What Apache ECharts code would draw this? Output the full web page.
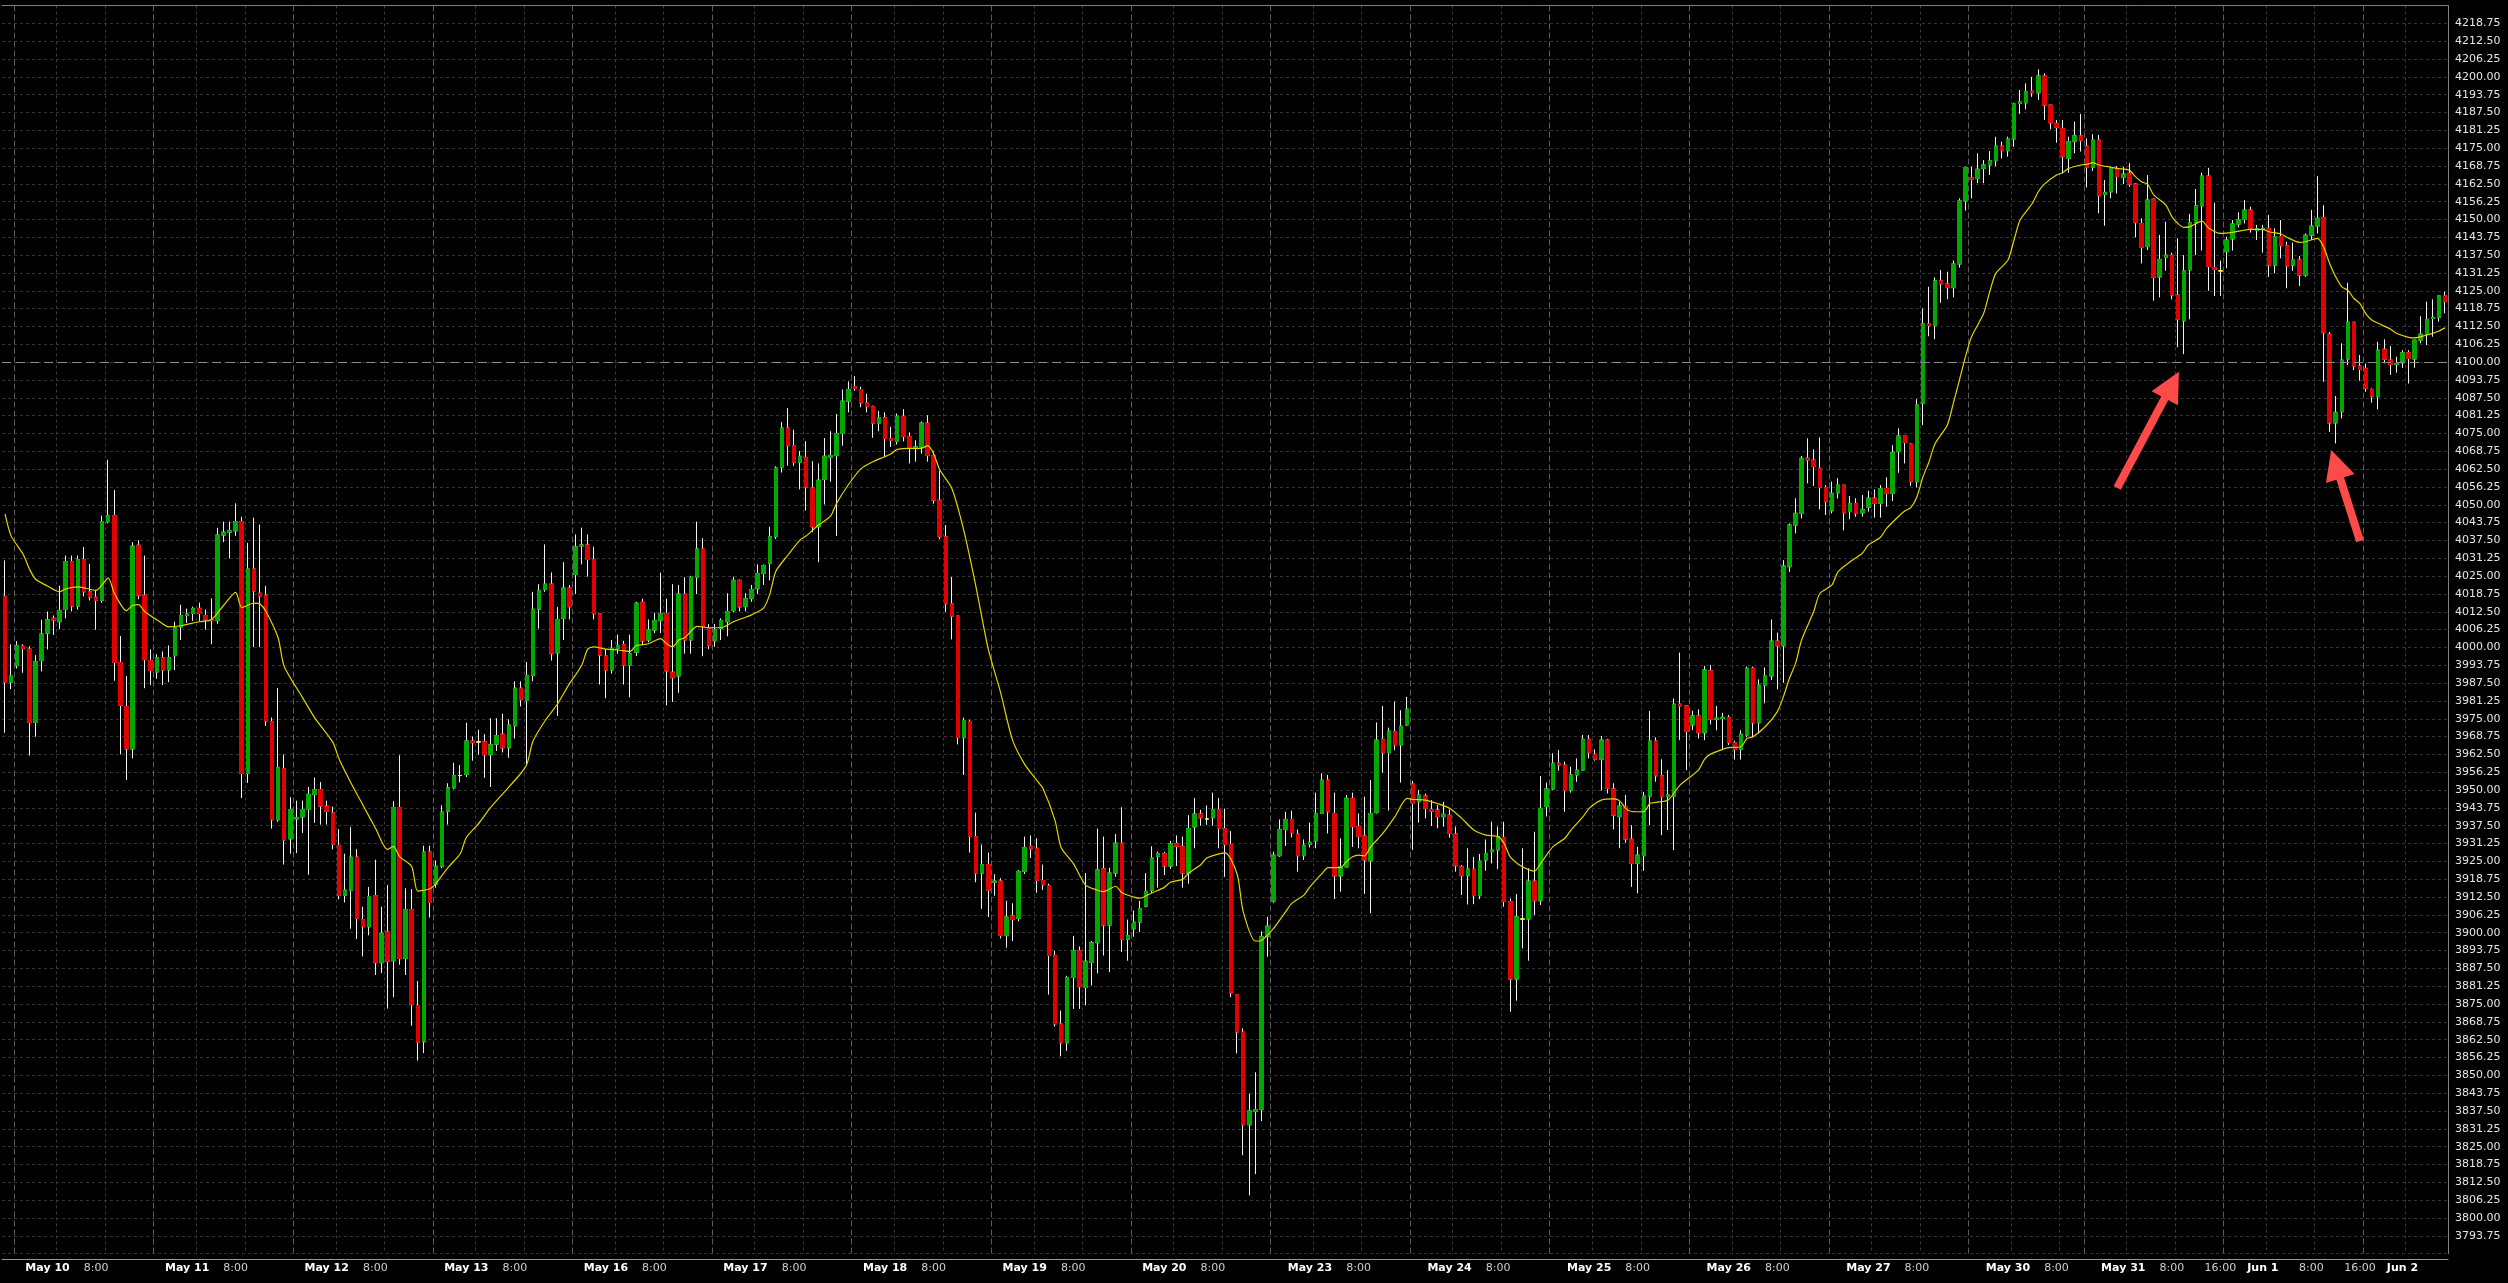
<!DOCTYPE html>
<html>
<head>
<meta charset="utf-8">
<script src="https://cdn.jsdelivr.net/npm/echarts@6/dist/echarts.min.js"></script>
<style>
html,body{margin:0;padding:0;background:#000;}
#chart{width:2508px;height:1283px;}
</style>
</head>
<body>
<div id="chart"></div>
<script>
// ---- time axis: trading days and their hourly bars ----
const DAYS = ['May 9','May 10','May 11','May 12','May 13','May 16','May 17','May 18','May 19','May 20',
  'May 23','May 24','May 25','May 26','May 27','May 30','May 31','Jun 1','Jun 2'];
const FULL_SESSION_HOURS = [0,1,2,3,4,5,6,7,8,9,10,11,12,13,14,15,17,18,19,20,21,22,23];
const SPECIAL_DAY_HOURS = {
  'May 9': [14,15,17,18,19,20,21,22,23],
  'May 30': [0,1,2,3,4,5,6,7,8,9,10,11,17,18,19,20,21,22,23],
  'Jun 2': [0,1,2,3,4,5,6]
};

// ---- bottom tick labels: [bar index, text] ----
const X_TICK_LABELS = [[7,'May 10'],[15,'8:00'],[30,'May 11'],[38,'8:00'],[53,'May 12'],[61,'8:00'],
  [76,'May 13'],[84,'8:00'],[99,'May 16'],[107,'8:00'],[122,'May 17'],[130,'8:00'],[145,'May 18'],[153,'8:00'],
  [168,'May 19'],[176,'8:00'],[191,'May 20'],[199,'8:00'],[215,'May 23'],[223,'8:00'],[238,'May 24'],[246,'8:00'],
  [261,'May 25'],[269,'8:00'],[284,'May 26'],[292,'8:00'],[307,'May 27'],[315,'8:00'],[330,'May 30'],[338,'8:00'],
  [349,'May 31'],[357,'8:00'],[365,'16:00'],[372,'Jun 1'],[380,'8:00'],[388,'16:00'],[395,'Jun 2']];

// ---- price axis ----
const Y_MIN = 3787.5, Y_MAX = 4225, Y_STEP = 6.25;
const H_LINE_PRICE = 4100;

// ---- OHLC values, one per hourly bar ----
const OPEN = [
4017.9,3987.8,3993.6,4000.4,3999.4,3973.7,3995.4,4005.0,4010.2,4009.0,
4013.3,4030.1,4014.5,4030.8,4019.5,4017.6,4016.5,4044.1,4046.2,3994.7,
3979.3,3964.4,4035.8,4018.3,3995.4,3991.4,3996.4,3992.1,3997.1,4007.2,
4011.2,4011.9,4013.7,4011.2,4009.7,4009.4,4039.4,4040.4,4040.9,4044.1,
3955.8,4027.5,4019.0,4018.3,3974.0,3939.6,3957.5,3932.9,3939.9,3940.6,
3943.2,3948.5,3950.2,3944.4,3942.0,3930.6,3913.1,3914.9,3926.5,3904.6,
3902.1,3913.0,3889.5,3900.3,3890.2,3943.9,3891.0,3908.1,3874.5,
3861.8,3928.3,3917.0,3923.3,3942.6,3950.8,3955.1,3955.5,3967.2,3966.9,
3966.9,3962.4,3966.1,3969.6,3964.8,3972.5,3985.7,3981.4,3990.2,4013.4,
4020.3,4022.2,3998.1,4010.2,4020.8,4025.6,4035.6,4035.9,4030.8,4011.8,
3997.0,3992.1,3999.7,4001.0,3993.8,3998.3,4015.8,4002.6,4006.1,4009.4,
4011.9,3991.3,3990.0,4018.7,4002.6,4024.6,4034.5,4006.6,4002.3,4006.6,
4009.0,4012.9,4023.5,4014.3,4017.1,4020.6,4025.9,4029.5,4038.8,4063.2,
4076.9,4070.7,4064.9,4066.6,4055.9,4042.3,4058.9,4066.6,4067.3,
4075.0,4086.3,4091.4,4090.4,4085.7,4084.4,4078.6,4080.5,4073.2,4072.2,
4081.0,4073.9,4069.8,4070.3,4078.6,4067.3,4051.6,4038.8,4015.3,4011.0,
3968.4,3974.1,3933.7,3920.9,3923.9,3917.7,3918.1,3899.0,3905.9,3905.0,
3921.5,3930.3,3929.6,3918.3,3916.4,3892.0,3868.0,3861.4,3884.3,3893.7,
3880.8,3889.6,3896.5,3922.4,3902.7,3920.9,3931.4,3897.7,3901.4,3903.7,
3909.3,3914.9,3926.8,3927.7,3923.4,3931.2,3930.3,3920.9,3937.1,3941.6,
3939.9,3940.3,3943.1,3936.5,3930.9,3878.3,3865.2,3832.7,3837.4,
3838.0,3898.8,3911.1,3927.0,3936.2,3939.7,3934.6,3927.0,3931.0,3932.2,
3941.8,3953.5,3941.8,3919.9,3923.1,3947.1,3937.2,3933.9,3925.2,3942.1,
3967.8,3963.1,3970.5,3965.8,3972.8,3952.1,3945.9,3947.9,3943.2,3943.0,
3940.7,3941.2,3934.6,3923.1,3920.0,3922.3,3913.0,3925.5,3928.4,3929.0,
3933.4,3910.9,3883.8,3904.8,3904.8,3918.1,3911.2,3944.2,3950.4,3959.4,
3958.8,3949.8,3955.3,3957.0,3967.8,3962.6,3960.8,3967.5,3950.4,3940.7,
3944.2,3932.8,3924.3,3927.0,3947.9,3967.2,3955.0,3947.7,3947.9,
3980.1,3979.5,3972.8,3976.0,3970.1,3991.8,3974.8,3975.1,3975.5,3966.6,
3964.3,3969.3,3992.7,3973.6,3986.8,3990.0,4002.2,4000.6,4028.3,4042.9,
4047.0,4066.3,4065.7,4062.8,4056.1,4047.9,4054.2,4056.9,4047.6,4050.5,
4047.2,4049.1,4052.3,4050.5,4055.7,
4054.0,4068.6,4074.3,4071.3,4058.1,4085.6,4113.4,4112.8,4128.5,4127.4,
4126.1,4134.4,4156.5,4164.6,4164.4,4167.9,4169.1,4170.6,4175.7,4174.1,
4178.2,4190.7,4190.9,4195.0,4194.4,4200.3,4190.1,4183.7,4181.9,4171.4,
4177.3,4179.3,4175.7,4168.3,4177.8,
4158.8,4159.7,4167.7,4164.8,4166.2,4162.4,4148.6,4140.5,4157.1,4129.9,
4136.7,4137.5,4123.5,4114.5,4132.3,4148.9,4154.8,4165.2,4133.2,4132.0,
4138.7,4143.2,4148.4,4150.0,4153.3,4146.1,4146.7,4146.9,4134.0,4144.0,
4140.8,4134.0,4135.8,
4130.5,4144.5,4147.7,4150.7,4109.8,4078.7,4082.6,4101.1,4114.0,4098.6,
4097.8,4090.4,4087.9,4104.5,4100.7,4099.2,4099.8,4103.3,4101.1,4107.7,
4109.8,4115.3,4115.7,4123.2
];
const HIGH = [
4030.5,4001.1,4002.2,4001.1,4000.4,3997.3,4009.7,4012.6,4011.2,4021.6,
4032.2,4032.2,4032.2,4035.2,4029.3,4020.2,4046.2,4065.8,4055.2,4004.0,
3990.0,4036.9,4037.6,4032.2,3999.3,3997.6,3998.6,4000.7,4009.0,4015.0,
4013.6,4014.3,4015.7,4013.3,4017.2,4041.9,4044.1,4044.1,4050.5,4045.8,
4036.6,4045.5,4043.1,4021.6,3975.4,3985.8,3962.5,3947.5,3946.3,3946.3,
3951.1,3954.4,3952.8,3946.3,3944.2,3936.3,3927.7,3937.0,3929.3,3909.1,
3916.0,3925.6,3909.1,3916.7,3946.1,3962.2,3915.6,3915.3,3883.1,
3930.5,3930.5,3925.4,3944.7,3952.4,3959.6,3958.8,3973.6,3968.8,3971.2,
3969.6,3975.2,3975.2,3976.8,3974.8,3988.1,3988.1,3994.9,4019.5,4022.2,
4036.1,4026.3,4014.2,4029.9,4021.9,4039.6,4042.0,4039.6,4035.3,4011.8,
3999.4,4002.6,4004.5,4002.3,4004.5,4016.0,4017.1,4009.8,4012.2,4026.2,
4017.1,4022.2,4021.9,4024.6,4025.1,4044.1,4038.3,4008.2,4008.2,4010.2,
4019.0,4024.8,4023.8,4019.0,4021.9,4029.1,4029.1,4042.3,4063.5,4079.0,
4083.9,4076.3,4068.9,4072.3,4065.3,4064.5,4073.4,4075.8,4081.8,
4090.4,4093.2,4095.1,4091.4,4088.9,4084.8,4082.9,4082.4,4077.3,4082.0,
4083.5,4075.4,4072.6,4079.2,4081.4,4068.8,4061.9,4042.9,4024.7,4011.0,
3975.4,3974.6,3942.1,3930.9,3928.1,3920.5,3919.1,3911.2,3910.3,3922.0,
3933.7,3934.1,3933.1,3923.9,3917.2,3893.7,3872.7,3884.9,3898.9,3895.2,
3920.9,3897.1,3936.5,3933.7,3922.8,3934.6,3944.0,3904.6,3907.8,3911.2,
3920.9,3930.3,3928.4,3928.4,3932.2,3934.1,3933.7,3941.2,3947.2,3943.1,
3944.6,3949.1,3947.2,3943.5,3935.6,3878.3,3866.5,3843.6,3851.1,
3900.5,3905.6,3928.4,3939.7,3942.4,3942.8,3936.2,3932.7,3938.6,3949.1,
3955.9,3955.3,3949.1,3933.1,3948.3,3949.1,3941.8,3947.7,3953.5,3973.7,
3979.5,3971.9,3981.0,3978.0,3982.7,3953.2,3950.0,3948.8,3946.5,3944.8,
3945.9,3943.2,3937.2,3923.7,3929.6,3926.6,3927.6,3932.7,3938.9,3937.2,
3938.9,3912.0,3913.6,3929.6,3922.6,3935.4,3954.9,3952.6,3962.9,3964.0,
3960.0,3958.2,3961.1,3969.3,3969.3,3964.3,3969.0,3967.8,3952.4,3945.9,
3948.3,3937.7,3930.1,3949.4,3977.7,3968.5,3960.8,3957.0,3982.1,
3998.2,3979.8,3977.8,3978.3,3993.5,3993.8,3979.5,3977.1,3976.3,3967.3,
3971.0,3993.3,3993.3,3988.8,3993.0,4009.8,4005.2,4030.6,4043.5,4052.3,
4067.1,4073.3,4069.4,4073.6,4056.9,4058.1,4059.3,4056.9,4053.1,4052.3,
4053.4,4054.9,4055.4,4056.9,4059.6,
4070.9,4076.8,4074.3,4071.5,4087.0,4118.8,4126.4,4129.7,4132.3,4131.7,
4135.6,4157.4,4168.5,4168.5,4173.2,4170.8,4174.0,4179.0,4177.3,4179.0,
4190.9,4195.4,4197.7,4200.0,4202.6,4201.2,4190.1,4184.9,4184.9,4179.0,
4184.3,4187.0,4178.4,4179.9,4179.6,
4163.8,4168.5,4168.7,4168.5,4169.7,4162.7,4150.4,4165.6,4157.4,4144.6,
4149.2,4138.4,4143.4,4137.5,4151.9,4160.7,4166.4,4168.1,4155.9,4135.6,
4144.0,4149.8,4152.5,4156.8,4154.5,4148.1,4148.1,4151.6,4146.9,4149.8,
4142.2,4141.9,4137.2,
4145.1,4153.3,4165.2,4155.0,4110.6,4088.1,4106.6,4127.8,4114.0,4102.5,
4099.5,4090.8,4107.1,4108.0,4105.6,4101.9,4104.2,4104.2,4107.7,4116.1,
4121.2,4122.0,4123.5,4124.7
];
const LOW = [
3970.1,3985.4,3992.6,3991.1,3962.1,3968.7,3991.6,3999.3,4004.4,4006.4,
4010.2,4012.6,4013.3,4017.9,4016.5,4006.2,4015.7,4043.5,3988.3,3962.5,
3953.5,3961.1,4016.9,3985.7,3986.8,3989.0,3986.8,3987.8,3992.1,4002.6,
4008.6,4009.3,4009.3,4006.2,4001.1,4008.3,4036.9,4031.2,4039.1,3947.2,
3952.5,4000.1,4000.1,3972.5,3936.5,3938.9,3923.9,3927.7,3927.9,3935.0,
3920.3,3938.5,3937.9,3937.9,3929.2,3911.7,3910.6,3901.4,3897.8,3891.7,
3899.1,3885.2,3885.9,3873.4,3877.4,3888.8,3885.2,3867.4,3855.2,
3857.8,3905.3,3915.8,3922.6,3937.9,3950.3,3952.7,3954.6,3960.3,3962.4,
3954.3,3951.1,3963.7,3963.2,3961.3,3968.0,3979.3,3959.2,3988.1,4006.6,
4019.5,3995.4,3976.0,4002.6,4009.8,4018.7,4029.1,4024.8,4009.8,3987.0,
3982.2,3990.8,3997.8,3987.0,3982.5,3997.0,4001.0,4001.8,4005.0,4005.0,
3979.7,3980.9,3984.1,3997.8,3997.8,4018.7,3996.9,3999.4,4000.2,4002.6,
4003.9,4012.3,4012.6,4012.6,4016.0,4018.7,4021.9,4023.5,4038.0,4061.3,
4063.7,4063.7,4055.4,4048.0,4040.4,4029.9,4050.1,4058.1,4039.1,
4070.7,4082.4,4089.9,4084.2,4082.4,4073.5,4075.8,4066.6,4070.3,4071.1,
4072.2,4064.5,4065.1,4067.9,4065.1,4050.4,4037.9,4012.5,4002.8,3966.0,
3955.3,3928.1,3917.7,3908.4,3905.5,3913.0,3898.0,3894.8,3897.1,3904.0,
3920.6,3926.2,3914.0,3915.0,3878.3,3867.1,3856.7,3858.6,3873.3,3873.3,
3874.6,3881.5,3885.8,3892.0,3886.2,3919.6,3893.3,3890.2,3898.6,3900.3,
3908.9,3914.0,3915.8,3920.2,3922.4,3923.4,3915.8,3917.2,3929.6,3937.5,
3937.8,3937.5,3929.6,3919.6,3877.4,3857.7,3822.0,3807.9,3815.4,
3834.0,3891.6,3910.5,3926.6,3930.4,3933.4,3921.4,3925.5,3929.9,3929.6,
3941.8,3934.8,3911.8,3914.4,3922.9,3930.1,3929.6,3913.6,3906.8,3941.8,
3956.1,3942.8,3964.0,3952.6,3972.4,3929.0,3938.6,3940.1,3937.4,3936.6,
3937.2,3933.3,3921.4,3913.2,3909.9,3910.0,3911.8,3921.7,3924.3,3922.3,
3909.1,3872.3,3876.2,3894.5,3890.2,3906.2,3909.7,3940.7,3950.0,3956.8,
3942.4,3949.1,3952.9,3956.8,3961.1,3960.3,3949.8,3948.8,3936.2,3929.6,
3931.5,3916.1,3913.8,3921.7,3937.7,3952.9,3934.2,3936.0,3929.0,
3967.5,3957.0,3971.0,3968.1,3967.5,3973.0,3971.0,3964.0,3965.8,3960.7,
3960.7,3968.5,3968.5,3969.9,3980.4,3988.6,3985.3,3987.6,4026.5,4040.0,
4045.2,4057.5,4056.6,4048.4,4046.4,4047.0,4052.2,4041.1,4044.9,4045.8,
4045.8,4047.6,4045.5,4045.5,4049.3,
4051.3,4061.2,4064.5,4056.6,4056.1,4077.9,4109.1,4108.0,4120.8,4122.0,
4122.7,4133.1,4153.1,4157.4,4162.7,4162.7,4165.6,4168.7,4171.4,4172.0,
4175.5,4187.0,4188.6,4193.0,4191.9,4184.9,4181.6,4176.9,4166.2,4166.4,
4173.2,4173.8,4161.2,4167.0,4152.2,
4147.8,4157.4,4159.1,4162.4,4161.5,4143.7,4134.6,4139.3,4121.5,4122.7,
4132.0,4122.0,4105.2,4102.8,4115.0,4137.5,4139.1,4125.0,4123.2,4123.2,
4132.9,4139.1,4147.2,4148.6,4145.4,4142.8,4138.4,4129.9,4131.1,4136.4,
4125.9,4132.0,4126.7,
4129.9,4142.8,4145.1,4093.1,4075.6,4071.5,4080.3,4099.0,4097.2,4093.5,
4089.6,4085.8,4083.4,4099.6,4095.5,4096.3,4098.0,4092.5,4098.0,4106.6,
4106.0,4108.9,4114.2,4117.1
];
const CLOSE = [
3987.8,3990.0,4000.7,3999.6,3973.7,3995.0,4004.7,4009.7,4009.6,4012.9,
4030.1,4014.5,4030.8,4019.5,4017.6,4016.5,4044.1,4046.2,3994.7,3979.7,
3964.4,4035.5,4018.3,3995.7,3991.9,3996.4,3992.1,3996.4,4006.9,4011.2,
4011.7,4013.7,4011.9,4009.7,4009.4,4039.4,4040.4,4040.9,4044.1,3955.8,
4027.5,4019.8,4018.0,3974.2,3939.6,3957.8,3932.5,3943.2,3940.3,3943.2,
3948.5,3950.2,3944.4,3942.5,3931.0,3913.1,3914.9,3926.5,3905.0,3902.1,
3912.7,3889.5,3899.8,3890.0,3943.9,3891.0,3908.1,3874.8,3861.6,
3928.3,3910.6,3923.3,3942.3,3950.8,3955.1,3955.1,3967.2,3966.6,3966.9,
3962.4,3965.9,3969.1,3964.8,3972.8,3985.7,3981.7,3990.2,4013.4,4020.0,
4022.2,3997.8,4009.8,4020.8,4014.3,4035.3,4035.9,4030.8,4011.8,3997.3,
3992.1,3999.7,4000.7,3993.8,3997.8,4015.5,4002.3,4006.1,4009.4,4011.9,
3991.8,3989.4,4018.7,4002.6,4024.6,4034.5,4007.4,4000.7,4006.1,4009.4,
4012.6,4023.5,4014.2,4017.1,4020.3,4025.9,4028.7,4038.8,4062.9,4076.9,
4070.7,4064.9,4067.0,4056.2,4042.3,4058.6,4067.0,4067.3,4075.0,
4086.3,4090.4,4090.8,4085.7,4084.4,4078.6,4080.5,4073.2,4072.6,4081.0,
4073.9,4069.8,4070.3,4078.6,4067.3,4051.6,4038.8,4015.3,4011.0,3968.4,
3974.4,3933.7,3920.9,3923.9,3914.9,3918.1,3899.0,3905.5,3904.6,3921.5,
3929.9,3929.4,3918.3,3916.8,3892.0,3868.0,3861.4,3884.3,3893.7,3881.1,
3890.0,3896.5,3922.0,3902.7,3920.9,3931.4,3897.7,3899.0,3903.7,3908.4,
3914.5,3926.2,3927.7,3923.4,3931.2,3930.3,3920.9,3936.5,3941.6,3940.3,
3939.9,3943.1,3936.5,3930.9,3878.9,3865.2,3832.7,3837.6,3838.0,
3898.6,3902.3,3927.2,3936.2,3939.7,3935.0,3927.0,3930.7,3931.7,3941.8,
3953.5,3942.4,3919.9,3923.1,3947.1,3937.2,3933.7,3925.5,3941.8,3967.5,
3963.1,3970.7,3965.8,3972.4,3978.4,3945.3,3948.3,3943.6,3942.6,3940.7,
3941.5,3934.8,3923.5,3920.0,3922.3,3913.0,3925.1,3927.8,3929.0,3933.7,
3910.9,3883.8,3905.6,3904.8,3918.1,3911.2,3943.6,3950.4,3959.4,3958.8,
3949.8,3955.3,3957.0,3967.8,3963.1,3960.8,3967.5,3950.6,3941.2,3944.4,
3932.8,3924.3,3927.2,3947.9,3967.2,3955.0,3947.7,3948.3,3980.1,
3979.5,3970.5,3976.0,3970.1,3992.1,3974.8,3975.2,3975.5,3966.6,3964.3,
3969.6,3992.7,3973.6,3986.8,3990.0,4002.2,4000.6,4028.5,4042.9,4047.0,
4066.3,4065.7,4063.4,4056.1,4051.1,4054.0,4056.9,4047.2,4050.5,4047.0,
4048.4,4052.3,4050.5,4055.7,4054.0,
4068.4,4074.1,4071.8,4058.1,4085.0,4113.4,4112.8,4128.5,4127.4,4126.1,
4134.4,4156.5,4168.2,4164.1,4167.6,4169.1,4170.6,4175.7,4174.1,4178.2,
4190.5,4191.3,4194.8,4194.4,4200.3,4190.1,4183.9,4182.2,4172.0,4177.3,
4179.3,4177.6,4168.3,4177.8,4158.3,
4159.5,4167.9,4165.0,4165.9,4162.4,4148.9,4140.2,4156.8,4129.7,4136.0,
4137.5,4123.5,4115.0,4132.0,4148.9,4154.8,4165.2,4133.5,4132.5,4132.0,
4142.8,4148.4,4149.8,4153.3,4146.7,4146.7,4146.9,4134.0,4144.0,4140.8,
4133.7,4135.8,4130.5,
4144.5,4147.7,4150.4,4110.3,4078.7,4082.4,4100.7,4114.0,4098.7,4097.4,
4090.8,4088.1,4104.2,4101.0,4099.2,4099.5,4103.3,4101.3,4107.7,4109.8,
4115.0,4115.7,4123.2,4121.2
];

// ---- yellow moving-average line: [bar index, price] ----
const MA_POINTS = [
[0,4046.8],[1,4039.1],[3,4032.6],[4,4027.6],[5,4024.0],[7,4021.5],[9,4019.5],[10,4020.5],[12,4021.2],[15,4020.0],
[17,4024.3],[18,4019.0],[20,4012.9],[21,4014.7],[22,4015.0],[23,4012.6],[25,4009.7],[27,4007.2],[29,4007.6],[32,4009.0],
[34,4009.7],[36,4014.7],[38,4019.3],[39,4014.0],[41,4015.5],[42,4015.2],[43,4012.6],[45,4003.3],[46,3993.3],[49,3982.5],
[51,3975.4],[54,3966.8],[55,3961.1],[57,3952.5],[59,3944.6],[61,3936.8],[63,3929.2],[64,3930.3],[65,3926.7],[67,3923.2],
[68,3914.6],[70,3915.4],[71,3917.3],[73,3922.9],[75,3927.7],[76,3933.4],[78,3938.2],[80,3943.9],[82,3948.7],[85,3955.9],
[86,3959.2],[87,3967.2],[89,3974.4],[91,3980.1],[93,3987.3],[95,3993.7],[96,3999.4],[97,4000.2],[99,3999.4],[101,3999.1],
[103,3998.6],[104,4000.6],[106,4001.3],[108,4003.1],[109,4001.3],[110,4000.2],[111,4002.6],[112,4003.4],[114,4007.4],[116,4006.9],
[118,4006.9],[120,4009.0],[122,4010.6],[123,4011.4],[125,4013.9],[126,4018.7],[127,4026.7],[129,4032.4],[131,4037.7],[132,4039.1],
[134,4042.8],[136,4046.0],[137,4050.5],[139,4057.2],[141,4062.6],[143,4065.1],[145,4066.9],[146,4067.9],[147,4069.4],[149,4069.8],
[151,4069.8],[152,4070.7],[153,4067.9],[154,4062.3],[156,4055.7],[158,4040.7],[160,4021.0],[162,3999.4],[164,3984.4],[166,3967.5],
[168,3959.0],[170,3953.4],[171,3950.6],[173,3939.3],[174,3929.9],[176,3924.3],[178,3916.8],[180,3914.9],[181,3914.4],[183,3916.3],
[184,3914.0],[186,3912.5],[187,3912.1],[189,3914.0],[191,3915.9],[192,3917.7],[194,3918.7],[195,3920.9],[197,3923.8],[198,3926.2],
[201,3928.0],[203,3920.5],[204,3907.4],[206,3897.1],[207,3897.3],[209,3901.5],[211,3907.4],[212,3910.3],[214,3913.2],[215,3916.1],
[217,3920.8],[218,3922.8],[220,3922.8],[221,3924.9],[222,3926.6],[223,3927.2],[224,3926.9],[225,3930.1],[227,3934.8],[229,3940.7],
[231,3947.1],[232,3946.7],[234,3946.5],[236,3945.3],[238,3943.6],[240,3940.1],[242,3936.0],[244,3934.2],[246,3933.7],[247,3931.3],
[248,3926.6],[250,3923.1],[252,3921.6],[253,3924.3],[255,3930.1],[257,3933.1],[258,3936.0],[260,3940.7],[261,3943.6],[263,3946.5],
[265,3946.9],[266,3946.3],[267,3943.6],[268,3942.5],[270,3942.4],[271,3945.3],[272,3945.7],[274,3946.5],[276,3951.8],[279,3957.0],
[280,3960.8],[281,3962.6],[283,3964.3],[284,3964.9],[286,3965.2],[287,3968.1],[288,3968.7],[290,3972.2],[292,3977.5],[293,3982.7],
[294,3989.2],[295,3994.4],[296,4002.6],[298,4012.6],[299,4018.9],[301,4021.9],[302,4026.5],[304,4030.0],[306,4033.0],[307,4035.9],
[309,4038.6],[310,4041.7],[312,4046.0],[313,4047.8],[314,4049.0],[315,4052.8],[316,4059.8],[317,4065.1],[318,4071.5],[320,4077.9],
[321,4085.6],[322,4093.7],[323,4101.9],[324,4108.9],[326,4117.1],[327,4124.7],[328,4131.1],[330,4135.8],[331,4142.8],[332,4149.8],
[334,4155.6],[335,4159.7],[336,4162.4],[338,4165.6],[339,4166.4],[340,4167.9],[342,4169.1],[343,4169.3],[344,4169.9],[345,4169.1],
[347,4168.3],[348,4167.9],[350,4167.3],[351,4165.0],[352,4163.2],[353,4162.4],[354,4158.6],[356,4155.1],[357,4151.0],[358,4148.6],
[359,4147.2],[360,4147.5],[362,4149.4],[363,4147.1],[365,4145.1],[367,4145.5],[369,4146.3],[370,4146.5],[372,4146.5],[373,4145.7],
[375,4144.9],[376,4143.7],[378,4142.0],[379,4142.2],[381,4143.4],[382,4140.4],[383,4134.6],[384,4129.9],[385,4126.4],[386,4125.2],
[387,4122.3],[388,4120.5],[389,4116.8],[390,4114.7],[391,4113.6],[393,4111.6],[394,4110.1],[396,4108.7],[397,4108.5],[399,4109.5],
[400,4110.1],[401,4110.9],[402,4112.0]
];

// ---- red annotation arrows: [[tail index, tail price], [head index, head price]] ----
const ARROWS = [
  [[348, 4055.9], [357, 4092.0]],
  [[388, 4037.3], [384, 4064.2]]
];

// ---------------- build ----------------
const categories = [];
const barHour = [];
DAYS.forEach(function (d) {
  const hours = SPECIAL_DAY_HOURS[d] || FULL_SESSION_HOURS;
  hours.forEach(function (h) { categories.push(d + ' ' + h + ':00'); barHour.push(h); });
});
const labelMap = new Map(X_TICK_LABELS);

const GREEN = '#00a800', RED = '#e00000', DOJI = '#ffff00', WICK = '#f2f2f2';
const wickData = OPEN.map(function (o, i) { return [o, CLOSE[i], LOW[i], HIGH[i]]; });
const bodyData = OPEN.map(function (o, i) {
  const c = CLOSE[i];
  const item = { value: [o, c, Math.min(o, c), Math.max(o, c)] };
  if (o === c) item.itemStyle = { color: DOJI, color0: DOJI, borderColor: DOJI, borderColor0: DOJI };
  return item;
});

const chart = echarts.init(document.getElementById('chart'), null, { renderer: 'canvas', width: 2508, height: 1283, devicePixelRatio: 1 });
const FONT = 'DejaVu Sans';

chart.setOption({
  backgroundColor: '#000000',
  animation: false,
  grid: { left: 2, right: 60, top: 5.5, bottom: 29.3, outerBoundsMode: 'none', containLabel: false },
  xAxis: [
    {
      type: 'category', data: categories, boundaryGap: true, position: 'bottom', offset: 5.3,
      axisLine: { show: true, lineStyle: { color: '#9a9a9a', width: 1 } },
      axisTick: { show: false },
      axisLabel: {
        interval: function (index) { return labelMap.has(index); },
        formatter: function (value, index) {
          const t = labelMap.get(index) || '';
          return t.indexOf(':') >= 0 ? '{t|' + t + '}' : '{d|' + t + '}';
        },
        margin: 4,
        rich: {
          d: { fontFamily: FONT, fontSize: 11, fontWeight: 'bold', color: '#ffffff' },
          t: { fontFamily: FONT, fontSize: 11, color: '#d0d0d0' }
        }
      },
      splitLine: {
        show: true,
        interval: function (index) { const h = barHour[index]; return h === 0 || h === 8; },
        lineStyle: { color: '#3a3a3a', width: 1, type: [3, 3] }
      }
    },
    {
      type: 'category', data: categories, boundaryGap: true, position: 'top',
      axisLine: { show: true, lineStyle: { color: '#808080', width: 1 } },
      axisTick: { show: false },
      axisLabel: { show: false },
      splitLine: {
        show: true,
        interval: function (index) { return barHour[index] === 17; },
        lineStyle: { color: '#5c5c5c', width: 1, type: [6, 3] }
      }
    }
  ],
  yAxis: {
    type: 'value', position: 'right', min: Y_MIN, max: Y_MAX, interval: Y_STEP, scale: true,
    axisLine: { show: true, lineStyle: { color: '#808080', width: 1 } },
    axisTick: { show: false },
    axisLabel: {
      showMinLabel: false, showMaxLabel: false, margin: 7,
      fontFamily: FONT, fontSize: 11, color: '#e6e6e6',
      formatter: function (v) { return v.toFixed(2); }
    },
    splitLine: { show: true, lineStyle: { color: '#333333', width: 1, type: [3, 3] } }
  },
  series: [
    {
      name: 'wicks', type: 'candlestick', xAxisIndex: 0, yAxisIndex: 0,
      data: wickData, barWidth: 4, silent: true,
      itemStyle: { color: WICK, color0: WICK, borderColor: WICK, borderColor0: WICK, borderWidth: 1 },
      emphasis: { disabled: true },
      markLine: {
        silent: true, symbol: ['none', 'none'], label: { show: false },
        lineStyle: { color: '#8c8c8c', width: 1, type: [9, 5] },
        data: [{ yAxis: H_LINE_PRICE }]
      }
    },
    {
      name: 'bodies', type: 'candlestick', xAxisIndex: 0, yAxisIndex: 0,
      data: bodyData, barWidth: 4, silent: true,
      itemStyle: { color: GREEN, color0: RED, borderColor: GREEN, borderColor0: RED, borderWidth: 1 },
      emphasis: { disabled: true }
    },
    {
      name: 'MA', type: 'line', xAxisIndex: 0, yAxisIndex: 0,
      data: MA_POINTS, showSymbol: false, smooth: 0.25, silent: true,
      lineStyle: { color: '#e2d400', width: 1.2 },
      emphasis: { disabled: true },
      markLine: {
        silent: true, symbol: ['none', 'triangle'], symbolSize: 30, label: { show: false },
        lineStyle: { color: '#ff4a4a', width: 8, type: 'solid' },
        itemStyle: { color: '#ff4a4a' },
        data: ARROWS.map(function (a) { return [{ coord: a[0] }, { coord: a[1] }]; })
      }
    }
  ]
});
</script>
</body>
</html>
